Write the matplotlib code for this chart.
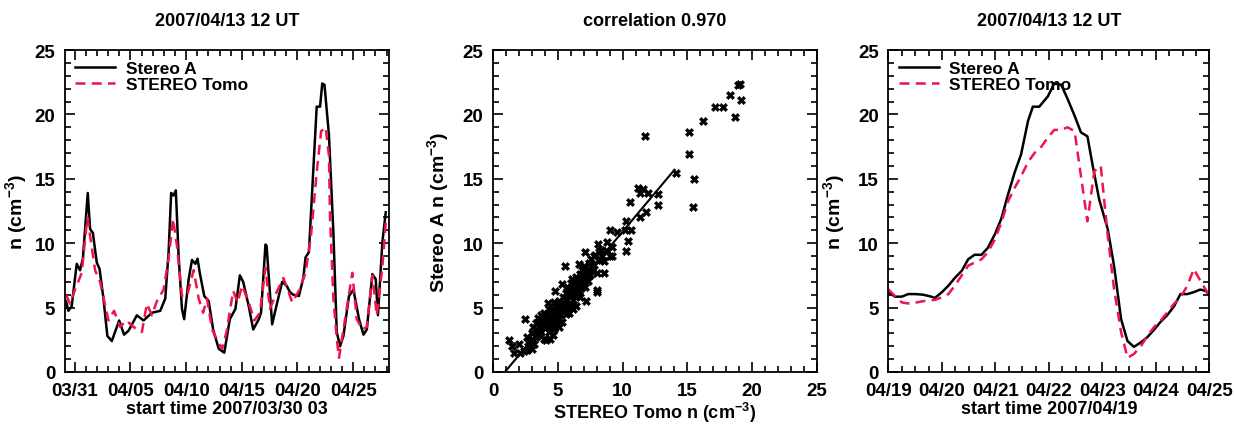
import numpy as np
import matplotlib
matplotlib.use('Agg')
import matplotlib.pyplot as plt
from matplotlib.ticker import MultipleLocator, FixedLocator
from datetime import datetime, timedelta

plt.rcParams['font.family'] = ['Liberation Sans', 'DejaVu Sans']
plt.rcParams['font.weight'] = 'bold'
plt.rcParams['axes.labelweight'] = 'bold'
plt.rcParams['axes.titleweight'] = 'bold'
plt.rcParams['mathtext.default'] = 'bf'
plt.rcParams['mathtext.fontset'] = 'custom'
plt.rcParams['mathtext.bf'] = 'Liberation Sans:bold'

# panel 1: days since 2007/03/30 03 UT
p1_start = datetime(2007, 3, 30, 3)
p1_stereo_t = [0.09, 0.3, 0.6, 1.05, 1.35, 1.6, 1.8, 2.04, 2.25, 2.5, 2.85, 3.1, 3.45, 3.8, 4.2,
               4.86, 5.3, 5.7, 6.45, 7.05, 7.8, 8.55, 9.0, 9.3, 9.53, 9.74, 9.95, 10.2, 10.5, 10.7,
               11.1, 11.4, 11.7, 11.9, 12.1, 12.5, 12.9, 13.3, 13.8, 14.3, 14.8, 15.3, 15.7, 16.0,
               16.5, 16.9, 17.4, 17.6, 18.0, 18.1, 18.6, 19.0, 19.5, 19.9, 20.2, 20.5, 21.0, 21.4,
               21.6, 21.9, 22.6, 22.9, 23.1, 23.3, 23.7, 24.1, 24.4, 24.7, 25.0, 25.5, 25.9, 26.4,
               26.8, 27.1, 27.6, 27.9, 28.1, 28.5, 28.8]
p1_stereo_n = [5.5, 4.75, 5.1, 8.4, 7.9, 8.8, 11.1, 13.9, 11.1, 10.8, 8.5, 8.0, 5.7, 2.8, 2.4,
               4.0, 2.9, 3.2, 4.4, 4.0, 4.6, 4.75, 5.7, 9.3, 13.9, 13.7, 14.1, 9.0, 4.9, 4.1,
               7.2, 8.7, 8.4, 8.8, 7.7, 5.9, 5.5, 3.3, 1.8, 1.5, 4.1, 4.9, 7.5, 7.0,
               5.1, 3.3, 4.1, 4.6, 9.9, 9.8, 3.7, 5.2, 7.0, 6.7, 6.2, 6.0, 5.9, 7.3,
               8.9, 9.3, 20.6, 20.6, 22.4, 22.3, 18.4, 10.8, 3.1, 2.0, 2.8, 5.9, 6.4, 4.1,
               2.9, 3.3, 7.6, 7.2, 4.4, 10.1, 12.4]
p1_tomo_t = [0.09, 0.45, 0.9, 1.5, 2.0, 2.3, 2.7, 3.15, 3.9, 4.4, 4.95, 5.5, 6.15, 6.9, 7.35,
             7.8, 8.25, 8.85, 9.3, 9.7, 10.05, 10.5, 10.95, 11.55, 12.0, 12.4, 12.75, 13.2, 13.6,
             14.1, 14.5, 15.1, 15.5, 15.9, 16.5, 17.0, 17.5, 18.0, 18.4, 19.0, 19.6, 20.0, 20.4,
             21.0, 21.6, 22.1, 22.6, 23.0, 23.4, 23.7, 23.8, 24.1, 24.4, 24.6, 25.0, 25.8, 26.2,
             26.7, 27.1, 27.6, 28.0, 28.5, 28.8]
p1_tomo_n = [6.0, 5.3, 6.4, 7.7, 12.0, 10.3, 7.9, 7.0, 4.0, 4.75, 3.5, 4.0, 3.5, 3.1, 5.3,
             4.4, 5.5, 6.4, 8.8, 11.9, 9.8, 5.9, 5.9, 7.9, 5.7, 4.6, 5.7, 3.3, 2.6,
             1.8, 3.1, 6.3, 5.4, 6.7, 5.4, 4.0, 4.6, 8.1, 4.9, 6.2, 7.3, 6.4, 5.4,
             6.3, 7.7, 10.7, 15.5, 18.7, 19.0, 16.8, 11.9, 5.7, 2.6, 1.1, 3.3, 7.7, 4.1,
             3.3, 3.5, 7.5, 4.4, 8.2, 11.6]
p1_tick_dates = ['03/31', '04/05', '04/10', '04/15', '04/20', '04/25']

# panel 2: scatter, STEREO Tomo n vs Stereo A n
tomo_n = [1.2, 1.5, 1.6, 2.0, 2.1, 2.4, 2.6, 2.6, 2.5, 2.8, 2.9, 3.0, 3.1, 3.0, 3.2, 3.3, 3.3,
          3.4, 3.5, 3.5, 3.6, 3.7, 3.7, 3.8, 3.9, 3.9, 4.0, 4.0, 4.1, 4.1, 4.2, 4.25, 4.3, 4.3,
          4.4, 4.4, 4.5, 4.5, 4.6, 4.6, 4.7, 4.7, 4.8, 4.8, 4.9, 4.9, 5.0, 5.0, 5.1, 5.1, 5.2,
          5.2, 5.3, 5.3, 5.4, 5.4, 5.55, 5.5, 5.6, 5.6, 5.7, 5.7, 5.8, 5.8, 5.9, 5.9, 6.0, 6.0,
          6.1, 6.1, 6.2, 6.2, 6.3, 6.3, 6.4, 6.4, 6.5, 6.5, 6.6, 6.6, 6.7, 6.7, 6.8, 6.9, 6.9,
          7.0, 7.0, 7.1, 7.1, 7.2, 7.2, 7.3, 7.4, 7.5, 7.6, 7.7, 7.8, 7.9, 8.0, 8.0, 8.05, 8.1,
          8.2, 8.3, 8.4, 8.6, 8.6, 8.8, 9.0, 9.0, 9.15, 9.2, 9.55, 10.2, 10.25, 10.3, 10.45,
          10.55, 10.65, 11.2, 11.35, 11.35, 11.6, 11.75, 11.8, 11.95, 12.75, 12.75, 14.1, 15.1,
          15.1, 15.4, 15.5, 16.2, 17.15, 17.75, 18.3, 18.7, 18.9, 19.05, 19.1,
          3.4, 3.6, 3.8, 4.0, 4.2, 4.4, 4.6, 5.0, 5.2, 5.4, 5.6, 6.0, 6.2, 6.6, 7.4, 7.8, 3.0,
          2.7, 3.5, 4.3, 4.9, 5.7, 6.3, 6.8, 7.6, 8.3, 8.8]
stereoa_n = [2.5, 2.0, 1.5, 2.2, 1.5, 1.6, 1.7, 2.7, 4.1, 2.0, 2.4, 1.8, 3.5, 3.0, 2.2, 2.7, 3.8,
             3.2, 4.2, 2.9, 3.6, 4.4, 3.1, 3.9, 2.6, 4.6, 3.4, 4.1, 2.5, 3.8, 4.5, 5.35, 3.1, 4.0,
             3.5, 2.6, 4.8, 3.9, 4.3, 2.9, 3.3, 5.4, 6.25, 4.1, 3.7, 4.6, 4.2, 5.0, 3.5, 5.5, 4.4,
             4.9, 3.9, 6.8, 4.7, 5.8, 8.2, 5.2, 4.5, 6.1, 5.6, 4.9, 6.4, 5.1, 5.9, 4.6, 6.9, 5.3,
             6.2, 7.2, 5.6, 4.9, 6.6, 5.9, 7.4, 5.1, 6.8, 6.1, 8.4, 7.1, 5.8, 7.6, 6.5, 7.9, 6.9,
             8.2, 7.3, 9.3, 6.6, 5.5, 7.8, 7.1, 8.5, 7.5, 8.8, 7.9, 8.3, 9.1, 7.7, 6.4, 6.2, 9.9,
             9.3, 8.7, 9.0, 8.6, 7.7, 9.4, 11.0, 9.0, 9.7, 9.0, 10.9, 11.0, 11.7, 9.4, 10.2,
             13.2, 11.0, 14.3, 13.9, 12.0, 14.2, 18.3, 12.4, 13.9, 13.8, 13.0, 15.45, 18.6,
             16.9, 12.8, 15.0, 19.5, 20.6, 20.6, 21.5, 19.8, 22.3, 22.4, 21.1,
             3.0, 3.3, 4.2, 3.7, 3.6, 4.2, 4.0, 4.6, 5.3, 5.0, 5.3, 6.0, 6.5, 6.3, 7.9, 9.0, 2.6,
             2.3, 3.9, 4.9, 5.1, 6.6, 7.0, 7.5, 8.2, 9.5, 10.1]
fit_slope = 1.2
fit_intercept = -1.1
fit_range = [1.0, 14.0]

# panel 3: days since 2007/04/19 00 UT
p3_stereo_t = [0, 0.12, 0.25, 0.37, 0.5, 0.65, 0.8, 0.87, 1.0, 1.12, 1.24, 1.37, 1.49, 1.61, 1.74,
               1.86, 1.99, 2.11, 2.23, 2.36, 2.48, 2.61, 2.7, 2.82, 2.98, 3.1, 3.23, 3.35, 3.48,
               3.6, 3.72, 3.82, 3.94, 4.1, 4.22, 4.35, 4.47, 4.59, 4.72, 4.84, 4.97, 5.09, 5.21,
               5.34, 5.46, 5.59, 5.71, 5.83, 5.93, 5.99]
p3_stereo_n = [6.2, 5.85, 5.85, 6.05, 6.05, 6.0, 5.85, 5.75, 6.2, 6.7, 7.3, 7.85, 8.75, 9.1, 9.1,
               9.65, 10.7, 11.9, 13.7, 15.5, 16.9, 19.5, 20.6, 20.6, 21.4, 22.4, 22.3, 21.2, 19.9,
               18.6, 18.3, 16.0, 13.4, 11.1, 8.2, 4.1, 2.4, 1.95, 2.3, 2.7, 3.3, 3.9, 4.4,
               5.1, 6.05, 6.05, 6.2, 6.4, 6.3, 6.05]
p3_tomo_t = [0, 0.12, 0.25, 0.4, 0.65, 0.87, 1.0, 1.12, 1.24, 1.37, 1.49, 1.61, 1.74, 1.86, 1.99,
             2.11, 2.23, 2.36, 2.48, 2.61, 2.73, 2.86, 2.98, 3.1, 3.23, 3.35, 3.48, 3.6, 3.72,
             3.85, 3.97, 4.1, 4.22, 4.35, 4.47, 4.59, 4.72, 4.84, 4.97, 5.09, 5.21, 5.34, 5.46,
             5.59, 5.71, 5.83, 5.96, 5.99]
p3_tomo_n = [6.4, 5.9, 5.4, 5.3, 5.5, 5.6, 5.8, 6.05, 6.7, 7.5, 8.25, 8.5, 8.75, 9.3, 10.3,
             11.6, 13.2, 14.3, 15.2, 16.3, 17.0, 17.5, 18.2, 18.8, 18.8, 19.0, 18.7, 15.2, 11.7,
             15.6, 16.0, 10.6, 6.4, 3.1, 1.1, 1.4, 2.0, 2.8, 3.5, 4.0, 4.6, 5.3, 5.8,
             6.7, 8.0, 7.1, 6.2, 6.1]
p3_tick_dates = ['04/19', '04/20', '04/21', '04/22', '04/23', '04/24', '04/25']

black = 'black'
red = '#f0144b'

fig = plt.figure(figsize=(12.34, 4.27), dpi=100)
ax1 = fig.add_axes([0.0527, 0.1265, 0.2626, 0.754])
ax2 = fig.add_axes([0.3995, 0.1265, 0.2626, 0.754])
ax3 = fig.add_axes([0.7200, 0.1265, 0.2600, 0.754])


def style_axis(ax):
    ax.tick_params(which='both', direction='in', top=True, right=True, labelsize=13.5, width=1.2)
    ax.tick_params(which='major', length=7, pad=7)
    ax.tick_params(which='minor', length=4)
    for s in ax.spines.values():
        s.set_linewidth(1.3)
    ax.set_ylim(0, 25)
    ax.yaxis.set_major_locator(MultipleLocator(5))
    ax.yaxis.set_minor_locator(MultipleLocator(1))


# panel 1
ax1.plot(p1_stereo_t, p1_stereo_n, color=black, lw=1.8, label='Stereo A')
ax1.plot(p1_tomo_t, p1_tomo_n, color=red, lw=1.8, ls=(0, (4, 2.5)), label='STEREO Tomo')
style_axis(ax1)
ax1.set_xlim(0, 29.1)
p1_ticks = [(datetime.strptime('2007/' + d, '%Y/%m/%d') - p1_start) / timedelta(days=1) for d in p1_tick_dates]
ax1.set_xticks(p1_ticks)
ax1.set_xticklabels(p1_tick_dates)
ax1.xaxis.set_minor_locator(FixedLocator(np.arange(p1_ticks[0], 29.1, 1.0)))
ax1.set_xlabel('start time 2007/03/30 03', fontsize=13, labelpad=1)
ax1.set_ylabel('n (cm$^{-3}$)', fontsize=14, labelpad=4)
ax1.set_title('2007/04/13 12 UT', fontsize=13, pad=18)
ax1.legend(loc='upper left', frameon=False, fontsize=12.5, handlelength=2.3,
           borderaxespad=0.2, labelspacing=0.1, handletextpad=0.6)

# panel 2
ax2.scatter(tomo_n, stereoa_n, marker='X', s=36, color=black, linewidths=0.3)
fx = np.array(fit_range)
ax2.plot(fx, fit_slope * fx + fit_intercept, color=black, lw=1.5)
style_axis(ax2)
ax2.set_xlim(0, 25)
ax2.xaxis.set_major_locator(MultipleLocator(5))
ax2.xaxis.set_minor_locator(MultipleLocator(1))
ax2.set_xlabel('STEREO Tomo n (cm$^{-3}$)', fontsize=13, labelpad=1)
ax2.set_ylabel('Stereo A n (cm$^{-3}$)', fontsize=14, labelpad=8)
ax2.set_title('correlation 0.970', fontsize=13, pad=18)

# panel 3
ax3.plot(p3_stereo_t, p3_stereo_n, color=black, lw=1.8, label='Stereo A')
ax3.plot(p3_tomo_t, p3_tomo_n, color=red, lw=1.8, ls=(0, (4, 2.5)), label='STEREO Tomo')
style_axis(ax3)
ax3.set_xlim(0, 6)
ax3.set_xticks(range(len(p3_tick_dates)))
ax3.set_xticklabels(p3_tick_dates)
ax3.xaxis.set_minor_locator(MultipleLocator(0.25))
ax3.set_xlabel('start time 2007/04/19', fontsize=13, labelpad=1)
ax3.set_ylabel('n (cm$^{-3}$)', fontsize=14, labelpad=8)
ax3.set_title('2007/04/13 12 UT', fontsize=13, pad=18)
ax3.legend(loc='upper left', frameon=False, fontsize=12.5, handlelength=2.3,
           borderaxespad=0.2, labelspacing=0.1, handletextpad=0.6)

fig.savefig('out.png', dpi=100)
